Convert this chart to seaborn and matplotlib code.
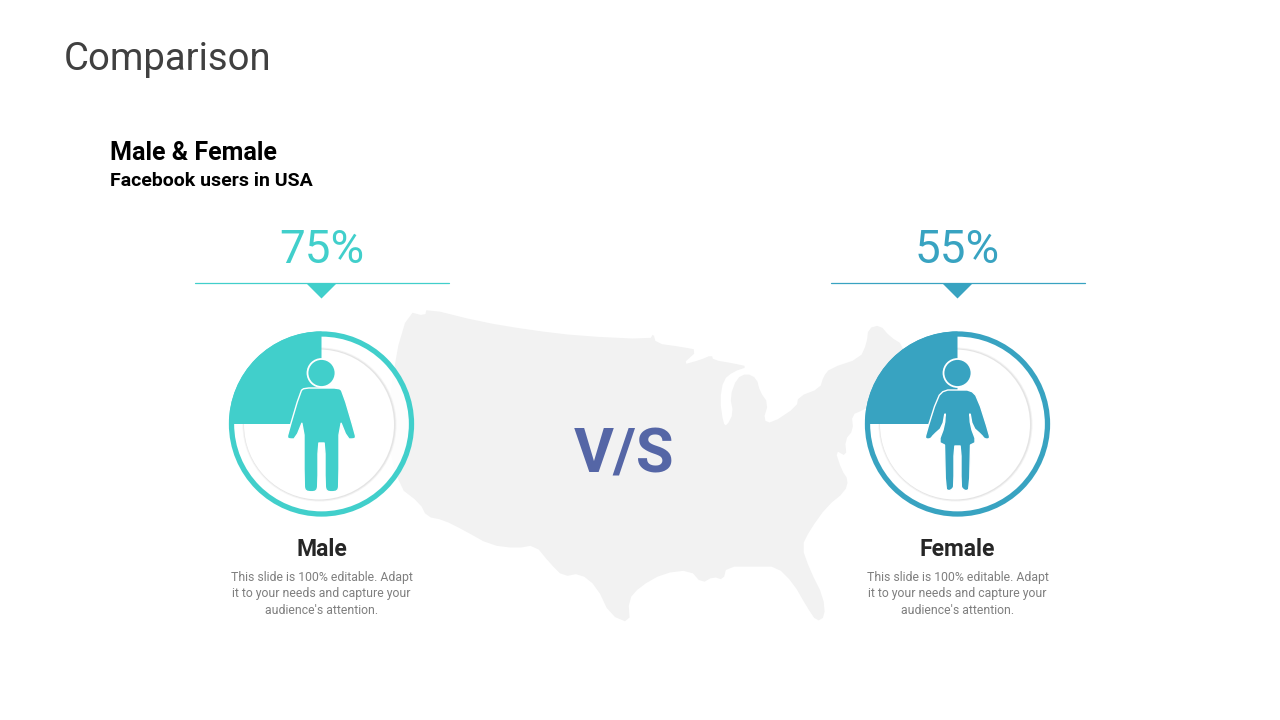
import matplotlib
matplotlib.use('Agg')
import matplotlib.pyplot as plt
import numpy as np
import seaborn as sns
from matplotlib.patches import Circle, Polygon, Wedge

# values
groups = ['Male', 'Female']
percents = [75, 55]
filled_share = [25, 25]  # the drawn wedge is a quarter in both circles
title = 'Comparison'
heading = 'Male & Female'
subheading = 'Facebook users in USA'
blurb = "This slide is 100% editable. Adapt\nit to your needs and capture your\naudience's attention."

map_zoom_x = [85, 135, 140, 300, 450, 600, 810, 820, 828, 900, 955, 905, 960, 995, 1000, 1060, 1105,
              1060, 1030, 1020, 1030, 1040, 1060, 1050, 1070, 1100, 1130, 1140, 1165, 1150, 1175, 1250,
              1255, 1320, 1330, 1350, 1440, 1460, 1465, 1500, 1530, 1570, 1600, 1450, 1415, 1420, 1395,
              1400, 1365, 1385, 1405, 1395, 1340, 1290, 1265, 1290, 1330, 1335, 1310, 1280, 1240, 1190,
              1130, 1040, 1030, 1000, 965, 930, 850, 780, 745, 750, 690, 650, 600, 550, 510, 465, 410,
              330, 250, 190, 140, 120, 55, 20, 45]
map_zoom_y = [35, 48, 25, 65, 90, 108, 118, 100, 130, 140, 150, 195, 180, 165, 180, 190, 200,
              215, 240, 300, 370, 378, 340, 290, 235, 220, 235, 275, 310, 360, 370, 320,
              290, 265, 230, 205, 175, 130, 85, 75, 110, 135, 250, 330, 345, 390, 420,
              470, 450, 510, 540, 575, 620, 690, 740, 810, 890, 950, 965, 920, 850, 800,
              800, 800, 840, 830, 850, 810, 820, 860, 900, 970, 945, 860, 820, 830, 790, 735, 745,
              735, 690, 660, 650, 610, 560, 400, 170]

# right half of each figure, relative to the circle centre
male_x = [0, 17, 21, 34, 34, 32, 26, 17.5, 17.5, 16, 10, 5, 3.5, 3.5, 0]
male_y = [-36, -36, -33, 11, 14, 15, 15, -6, 62, 67, 68, 67, 62, 19, 19]
female_x = [0, 13, 20, 32, 32, 27, 24, 15, 12, 13, 19, 13, 13, 12, 8.5, 5, 3.5, 3.5, 0]
female_y = [-34, -34, -27, 11, 15, 15, 11, 3, -14, 2, 18, 21, 21, 65, 67, 65, 62, 22, 22]


def rounded(points, passes=1):
    # corner cutting so the outlines do not look faceted
    for _ in range(passes):
        nxt = np.roll(points, -1, axis=0)
        points = np.column_stack([0.75 * points + 0.25 * nxt, 0.25 * points + 0.75 * nxt]).reshape(-1, 2)
    return points


sns.set_theme(style='white')
colors = sns.color_palette(['#41CFCB', '#38A3C1'])
plt.rcParams['font.family'] = ['Roboto', 'DejaVu Sans']

fig = plt.figure(figsize=(12.8, 7.2), dpi=100)
ax = fig.add_axes([0, 0, 1, 1])
ax.set_xlim(0, 1280)
ax.set_ylim(720, 0)
ax.axis('off')

# map
map_xy = np.column_stack([380 + np.array(map_zoom_x) / 3, 300 + np.array(map_zoom_y) / 3])
ax.add_patch(Polygon(rounded(map_xy), closed=True, fc='#F2F2F2', ec='none', zorder=1))

ax.text(64, 59, title, fontsize=27.5, color='#404040', ha='left', va='center')
ax.text(110, 152.5, heading, fontsize=18, color='black', weight='bold', ha='left', va='center')
ax.text(110, 181, subheading, fontsize=14, color='black', weight='bold', ha='left', va='center')
ax.text(624, 455, 'V/S', fontsize=44, color='#5566A6', weight='bold', ha='center', va='center', zorder=5)

centers = [321.5, 957.5]
shapes = [(male_x, male_y), (female_x, female_y)]
for cx, group, pct, share, col, (sx, sy) in zip(centers, groups, percents, filled_share, colors, shapes):
    cy = 424
    ax.text(cx, 250, f'{pct}%', fontsize=33, color=col, ha='center', va='center')
    ax.plot([cx - 127, cx + 127], [283, 283], color=col, lw=0.9, zorder=3)
    ax.add_patch(Polygon([(cx - 15.5, 283), (cx + 15.5, 283), (cx, 298.5)], fc=col, ec='none', zorder=3))

    # circle, the soft inner ring sits a little left of centre
    ax.add_patch(Circle((cx, cy), 90, fc='white', ec='none', alpha=0.85, zorder=2))
    ax.add_patch(Circle((cx - 2, cy + 0.5), 77, fc='#F3F3F3', ec='none', zorder=2))
    ax.add_patch(Circle((cx - 2, cy + 0.5), 76, fc='#E4E4E4', ec='none', zorder=2))
    ax.add_patch(Circle((cx - 2.5, cy + 0.5), 75, fc='white', ec='none', zorder=2))
    ax.add_patch(Circle((cx, cy), 90, fc='none', ec=col, lw=3.8, zorder=3))
    ax.add_patch(Wedge((cx, cy), 92.5, 270 - 360 * share / 100, 270, fc=col, ec='none', zorder=3))

    # figure
    xs = np.array(sx, dtype=float)
    ys = np.array(sy, dtype=float)
    outline = np.column_stack([np.r_[xs, -xs[::-1]] + cx, np.r_[ys, ys[::-1]] + cy])
    ax.add_patch(Polygon(rounded(outline), closed=True, fc=col, ec='white', lw=1, joinstyle='round', zorder=4))
    ax.add_patch(Circle((cx, cy - 51), 14, fc=col, ec='white', lw=1.3, zorder=4))

    ax.text(cx, 549.5, group, fontsize=16.5, color='#262626', weight='bold', ha='center', va='center')
    ax.text(cx, 594, blurb, fontsize=8.8, color='#7F7F7F', ha='center', va='center', linespacing=1.34)

fig.savefig('out.png', dpi=100)
